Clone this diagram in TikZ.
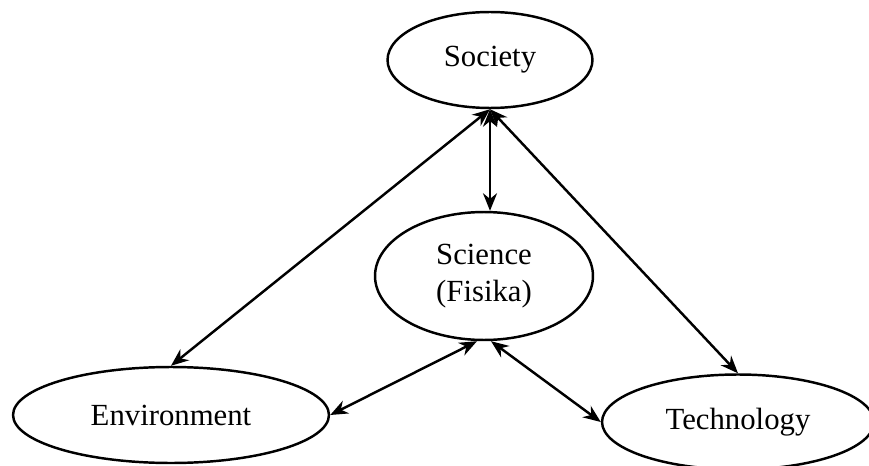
\documentclass[tikz,border=0pt]{standalone}
\usepackage{fontspec}
\setmainfont{Liberation Serif}
\usetikzlibrary{shapes.geometric,arrows.meta}

\begin{document}
\begin{tikzpicture}[x=0.02cm,y=-0.02cm,
    topic/.style={draw,ellipse,line width=1.4pt,inner sep=0pt,align=center,font=\fontsize{17.5}{21}\selectfont},
    link/.style={line width=1.4pt,{Stealth[length=10pt,width=8pt]}-{Stealth[length=10pt,width=8pt]}}]
            \useasboundingbox (0,0) rectangle (869,466);
            \node[topic,minimum width=4.1cm,minimum height=1.92cm] (society) at (490,60) {Society};
            \node[topic,minimum width=4.36cm,minimum height=2.56cm] (science) at (484,276) {Science\\(Fisika)};
            \node[topic,minimum width=6.32cm,minimum height=1.92cm] (environment) at (171,415) {Environment};
            \node[topic,minimum width=5.44cm,minimum height=1.9cm] (technology) at (738,422) {Technology};
            \coordinate (sciencetop) at (science.north -| society.south);
            \draw[link] (society.south) -- (environment.north);
            \draw[link] (society.south) -- (sciencetop);
            \draw[link] (society.south) -- (technology.north);
            \draw[link] ([xshift=-4pt]science.south) -- (environment.east);
            \draw[link] ([xshift=4pt]science.south) -- (technology.west);
        \end{tikzpicture}
\end{document}
